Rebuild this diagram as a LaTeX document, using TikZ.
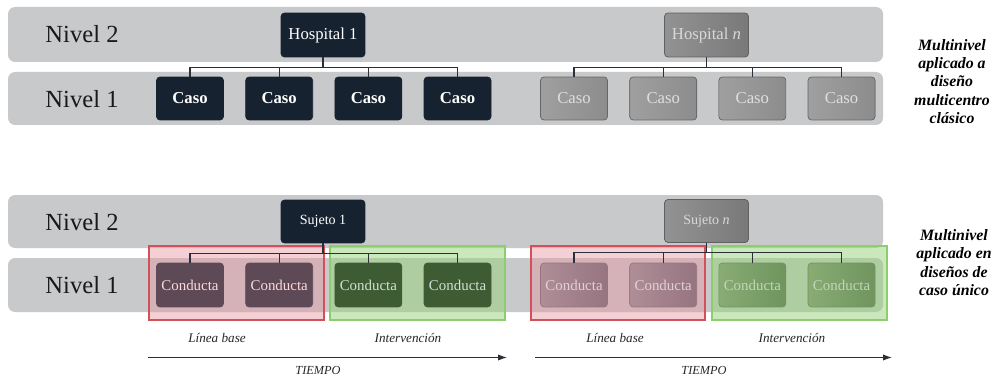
\documentclass[tikz,border=0pt]{standalone}
\usepackage{fontspec}
\setmainfont{Liberation Serif}[BoldItalicFont={Liberation Serif Bold Italic}]
\usetikzlibrary{positioning, arrows.meta}
\definecolor{bandgray}{HTML}{C8C9CA}
\definecolor{navy}{HTML}{16222F}
\definecolor{lnkcol}{HTML}{2A3038}
\definecolor{malva}{HTML}{5E4A56}
\definecolor{verde}{HTML}{3E5C34}
\definecolor{malvahi}{RGB}{176,142,152}
\definecolor{malvalo}{RGB}{150,116,128}
\definecolor{verdehi}{RGB}{136,172,116}
\definecolor{verdelo}{RGB}{112,148,94}
\definecolor{redfr}{HTML}{D2505A}
\definecolor{redfill}{HTML}{E696A0}
\definecolor{grnfr}{HTML}{8CCD6E}
\definecolor{grnfill}{HTML}{96D278}
\tikzset{
  lvlband/.style = {fill=bandgray, rounded corners=4pt},
  lvl/.style     = {font=\fontsize{14}{16}\selectfont, text=black!90},
  boxbase/.style = {rectangle, rounded corners=2pt, inner sep=1pt},
  hosp/.style    = {boxbase, draw=navy, fill=navy, text=white,
                    minimum width=1.68cm, minimum height=0.88cm,
                    font=\fontsize{9.5}{11}\selectfont},
  hospn/.style   = {hosp, draw=gray!75!black, left color=gray!85,
                    right color=gray!95!black, text=gray!30},
  caso/.style    = {boxbase, draw=navy, fill=navy, text=white,
                    minimum width=1.34cm, minimum height=0.86cm,
                    font=\fontsize{9.5}{11}\selectfont\bfseries},
  cason/.style   = {caso, draw=gray!80!black, left color=gray!75,
                    right color=gray!90, text=gray!25,
                    font=\fontsize{9.5}{11}\selectfont},
  suj/.style     = {hosp, minimum height=0.86cm,
                    font=\fontsize{8}{10}\selectfont},
  sujn/.style    = {hospn, minimum height=0.86cm,
                    font=\fontsize{8}{10}\selectfont},
  cond/.style    = {boxbase, minimum width=1.34cm, minimum height=0.88cm,
                    font=\fontsize{8.5}{10}\selectfont},
  condr/.style   = {cond, draw=malva, fill=malva, text=pink!60!white},
  condg/.style   = {cond, draw=verde, fill=verde, text=green!15!gray!30},
  condrn/.style  = {cond, draw=malvalo, left color=malvahi,
                    right color=malvalo, text=malvahi!40!white},
  condgn/.style  = {cond, draw=verdelo, left color=verdehi,
                    right color=verdelo, text=verdehi!50!white},
  frmr/.style    = {draw=redfr, line width=0.8pt, fill=redfill, fill opacity=0.45},
  frmg/.style    = {draw=grnfr, line width=0.8pt, fill=grnfill, fill opacity=0.5},
  lnk/.style     = {draw=lnkcol, line width=0.7pt},
  phase/.style   = {font=\fontsize{7.5}{9}\selectfont\itshape, text=black!85},
  tarr/.style    = {-{Latex[length=5pt,width=3.5pt]}, draw=lnkcol, line width=0.6pt},
  side/.style    = {align=center, font=\fontsize{9}{10.4}\selectfont\bfseries\itshape},
}
\begin{document}
\begin{tikzpicture}[x=0.02cm, y=-0.02cm, node distance=0.43cm]
  \useasboundingbox (0,0) rectangle (996,378);

  % multicentro
  \fill[lvlband] (8,7) rectangle (883,62);
  \fill[lvlband] (8,72) rectangle (883,125);
  \node[lvl] (n2a) at (82,34) {Nivel 2};
  \node[lvl] (n1a) at (82,99) {Nivel 1};

  \node[hosp]  (h1) at (323,35)    {Hospital 1};
  \node[caso]  (c1) at (190,98.5)  {Caso};
  \node[caso, right=of c1] (c2) {Caso};
  \node[caso, right=of c2] (c3) {Caso};
  \node[caso, right=of c3] (c4) {Caso};

  \node[hospn] (hn) at (706.5,35)  {Hospital \textit{n}};
  \node[cason] (cn1) at (574,98.5) {Caso};
  \node[cason, right=of cn1] (cn2) {Caso};
  \node[cason, right=of cn2] (cn3) {Caso};
  \node[cason, right=of cn3] (cn4) {Caso};

  \foreach \i in {1,...,4} {
    \draw[lnk] (h1.south) -- ++(0,10) -| (c\i.north);
    \draw[lnk] (hn.south) -- ++(0,10) -| (cn\i.north);
  }

  \node[side] (lbla) at (952,81.5) {Multinivel\\aplicado a\\diseño\\multicentro\\clásico};

  % caso unico
  \fill[lvlband] (8,195) rectangle (883,248);
  \fill[lvlband] (8,258) rectangle (883,312);
  \node[lvl] (n2b) at (82,222) {Nivel 2};
  \node[lvl] (n1b) at (82,285) {Nivel 1};

  \filldraw[frmr] (149,246) rectangle (324,320);
  \filldraw[frmg] (330,246) rectangle (505,320);
  \filldraw[frmr] (531,246) rectangle (705,320);
  \filldraw[frmg] (712,246) rectangle (887,320);

  \node[suj]   (s1) at (323,221.5)  {Sujeto 1};
  \node[condr] (d1) at (190,285)    {Conducta};
  \node[condr, right=of d1] (d2) {Conducta};
  \node[condg, right=of d2] (d3) {Conducta};
  \node[condg, right=of d3] (d4) {Conducta};

  \node[sujn]   (sn) at (706.5,221) {Sujeto \textit{n}};
  \node[condrn] (dn1) at (574,285)  {Conducta};
  \node[condrn, right=of dn1] (dn2) {Conducta};
  \node[condgn, right=of dn2] (dn3) {Conducta};
  \node[condgn, right=of dn3] (dn4) {Conducta};

  \foreach \i in {1,...,4} {
    \draw[lnk] (s1.south) -- ++(0,10) -| (d\i.north);
    \draw[lnk] (sn.south) -- ++(0,10) -| (dn\i.north);
  }

  \node[phase] (lb1) at (217,338) {Línea base};
  \node[phase] (iv1) at (408,338) {Intervención};
  \node[phase] (lb2) at (615,338) {Línea base};
  \node[phase] (iv2) at (792,338) {Intervención};

  \coordinate (t1s) at (148,357.5);
  \coordinate (t1e) at (507,357.5);
  \coordinate (t2s) at (535,357.5);
  \coordinate (t2e) at (892,357.5);
  \draw[tarr] (t1s) -- (t1e);
  \draw[tarr] (t2s) -- (t2e);
  \node[phase, font=\fontsize{7}{8}\selectfont\itshape] (tp1) at (318,370) {TIEMPO};
  \node[phase, font=\fontsize{7}{8}\selectfont\itshape] (tp2) at (704,370) {TIEMPO};

  \node[side] (lblb) at (954,262.5) {Multinivel\\aplicado en\\diseños de\\caso único};
\end{tikzpicture}
\end{document}
